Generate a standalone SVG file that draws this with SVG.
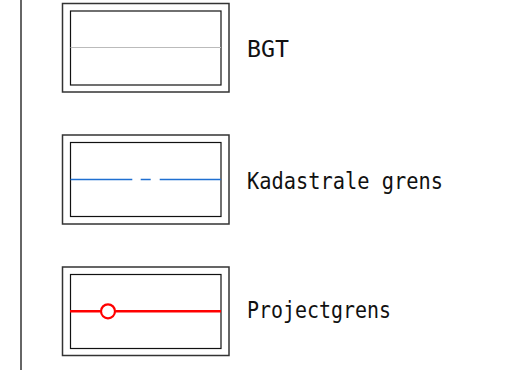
<svg xmlns="http://www.w3.org/2000/svg" width="513" height="370" viewBox="0 0 513 370">
<style>
.outer{fill:none;stroke:#333;stroke-width:1.5}
.inner{fill:none;stroke:#111;stroke-width:1.2}
.lbl{font-family:"DejaVu Sans Mono","Liberation Mono",monospace;font-size:23px;fill:#111}
</style>
<rect width="513" height="370" fill="#fff"/>
<line x1="21" y1="0" x2="21" y2="370" stroke="#333" stroke-width="1.5"/>
<g id="bgt">
<rect class="outer" x="62.5" y="3.5" width="166.5" height="88.5"/>
<rect class="inner" x="70.5" y="11" width="150.5" height="74"/>
<line x1="70.5" y1="47.5" x2="221" y2="47.5" stroke="#bbb" stroke-width="1"/>
<text class="lbl" x="247" y="57" textLength="42" lengthAdjust="spacingAndGlyphs">BGT</text>
</g>
<g id="kadastraal">
<rect class="outer" x="62.5" y="135" width="166.5" height="89"/>
<rect class="inner" x="70.5" y="142.5" width="150.5" height="74"/>
<path d="M70.5 179.5H132.3M140.7 179.5H150.7M159.7 179.5H221" stroke="#1f6fd1" stroke-width="1.3" fill="none"/>
<text class="lbl" x="247" y="189" textLength="196" lengthAdjust="spacingAndGlyphs">Kadastrale grens</text>
</g>
<g id="projectgrens">
<rect class="outer" x="62.5" y="267" width="166.5" height="88.5"/>
<rect class="inner" x="70.5" y="274.5" width="150.5" height="74"/>
<path d="M70 311.3H100.5M115.5 311.3H221" stroke="#ff0000" stroke-width="2.5" fill="none"/>
<circle cx="108" cy="311.3" r="7" fill="#fff" stroke="#ff0000" stroke-width="2.2"/>
<text class="lbl" x="247" y="318" textLength="144" lengthAdjust="spacingAndGlyphs">Projectgrens</text>
</g>
</svg>
